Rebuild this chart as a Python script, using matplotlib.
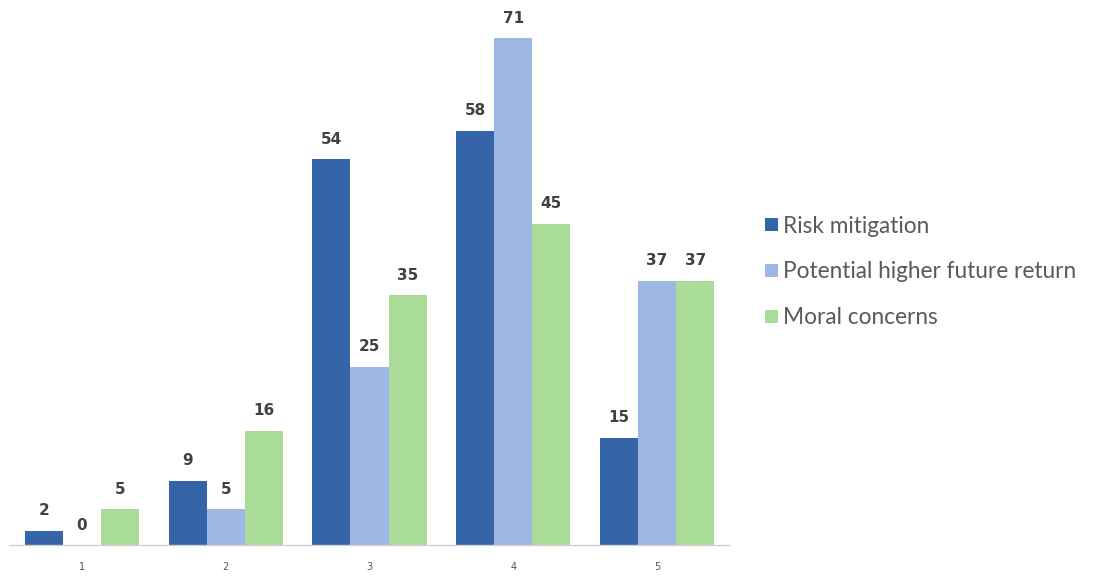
import matplotlib
matplotlib.use("Agg")
import matplotlib.pyplot as plt
import numpy as np

categories = ["1", "2", "3", "4", "5"]
series_names = ["Risk mitigation", "Potential higher future return", "Moral concerns"]
risk = [2, 9, 54, 58, 15]
potential = [0, 5, 25, 71, 37]
moral = [5, 16, 35, 45, 37]
colors = ["#3564A8", "#9DB9E3", "#A9DC98"]

W, H = 1097, 579
fig = plt.figure(figsize=(W / 100, H / 100), dpi=100)
ax = fig.add_axes([10 / W, (579 - 545) / H, (729 - 10) / W, (545 - 9.5) / H])

x = np.arange(len(categories))
bw = 0.265
for i, (vals, name, c) in enumerate(zip([risk, potential, moral], series_names, colors)):
    pos = x + (i - 1) * bw
    bars = ax.bar(pos, vals, bw, color=c, label=name)
    for p, v in zip(pos, vals):
        ax.annotate(str(v), (p, v), xytext=(0, 9), textcoords="offset points",
                    ha="center", va="bottom", fontsize=11, fontweight="bold",
                    color="#404040", family="DejaVu Sans")

ax.set_xlim(-0.5, len(categories) - 0.5)
ax.set_ylim(0, 75)
ax.set_xticks(x)
ax.set_xticklabels(categories, fontsize=7, color="#555555")
ax.tick_params(axis="x", length=0, pad=12)
ax.set_yticks([])
for s in ["top", "right", "left"]:
    ax.spines[s].set_visible(False)
ax.spines["bottom"].set_color("#D0D0D0")
ax.spines["bottom"].set_linewidth(1)

leg = fig.legend(loc="center left", bbox_to_anchor=(745 / W, 1 - 272 / H), frameon=False,
                 handlelength=0.55, handleheight=0.55, handletextpad=0.25,
                 labelspacing=1.1, prop={"family": "Lato", "size": 16.3})
for t in leg.get_texts():
    t.set_color("#595959")

fig.savefig("out.png", dpi=100)
